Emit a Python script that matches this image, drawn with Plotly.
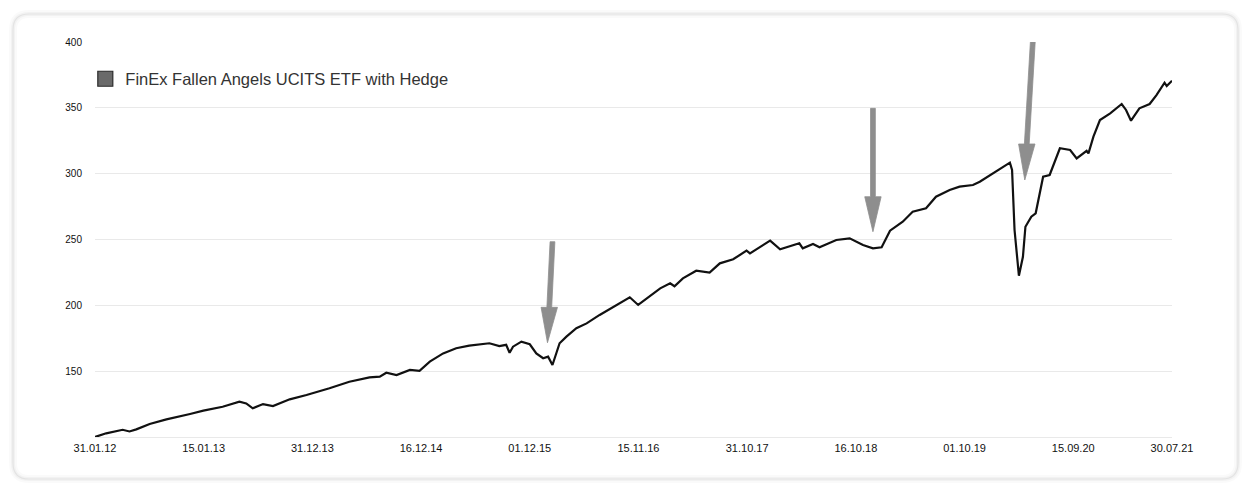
import plotly.graph_objects as go

# ---------------- data ----------------
series_name = "FinEx Fallen Angels UCITS ETF with Hedge"

dates = [
    "2012-01-31", "2012-03-07", "2012-04-29", "2012-05-21", "2012-06-12", "2012-07-25",
    "2012-09-17", "2012-11-10", "2012-12-02", "2013-01-14", "2013-03-17", "2013-05-10",
    "2013-06-01", "2013-06-22", "2013-07-25", "2013-08-26", "2013-10-19", "2013-12-12",
    "2014-01-25", "2014-02-24", "2014-04-29", "2014-07-03", "2014-08-05", "2014-08-26",
    "2014-09-28", "2014-11-10", "2014-12-11", "2015-01-13", "2015-02-25", "2015-04-08",
    "2015-05-20", "2015-07-24", "2015-08-25", "2015-09-16", "2015-09-27", "2015-10-08",
    "2015-11-04", "2015-12-01", "2015-12-22", "2016-01-13", "2016-01-29", "2016-02-12",
    "2016-03-06", "2016-03-28", "2016-04-29", "2016-06-01", "2016-07-13", "2016-08-25",
    "2016-10-18", "2016-11-14", "2016-12-11", "2017-01-24", "2017-02-25", "2017-03-11",
    "2017-04-07", "2017-05-20", "2017-07-02", "2017-08-04", "2017-09-16", "2017-10-29",
    "2017-11-09", "2017-12-11", "2018-01-13", "2018-02-14", "2018-04-17", "2018-04-28",
    "2018-05-31", "2018-06-21", "2018-08-14", "2018-09-26", "2018-11-08", "2018-12-10",
    "2019-01-07", "2019-02-03", "2019-03-16", "2019-04-17", "2019-05-30", "2019-07-01",
    "2019-08-14", "2019-09-15", "2019-10-28", "2019-11-19", "2020-01-01", "2020-02-24",
    "2020-03-02", "2020-03-10", "2020-03-24", "2020-04-06", "2020-04-14", "2020-05-03",
    "2020-05-17", "2020-05-30", "2020-06-10", "2020-07-01", "2020-08-03", "2020-09-05",
    "2020-09-26", "2020-10-28", "2020-11-03", "2020-11-19", "2020-12-10", "2021-01-12",
    "2021-02-18", "2021-03-04", "2021-03-20", "2021-04-16", "2021-05-19", "2021-06-10",
    "2021-07-06", "2021-07-13", "2021-07-30",
]

values = [
    100.0, 102.8, 105.5, 104.2, 105.8, 109.9,
    113.4, 116.7, 117.5, 120.0, 123.0, 126.8,
    125.5, 121.8, 125.0, 123.5, 128.6, 131.9,
    134.8, 137.0, 142.0, 145.3, 145.8, 148.8,
    147.0, 150.9, 150.3, 157.2, 163.5, 167.4,
    169.4, 171.2, 169.1, 170.0, 164.0, 168.6,
    172.4, 170.4, 163.5, 159.8, 161.0, 154.7,
    171.2, 176.2, 182.6, 186.3, 192.7, 198.5,
    206.1, 200.3, 205.3, 212.9, 216.7, 214.5,
    220.5, 226.3, 224.8, 231.9, 235.0, 241.5,
    239.5, 244.5, 249.1, 242.6, 247.1, 243.3,
    246.6, 244.1, 249.6, 250.9, 245.8, 243.3,
    244.1, 256.7, 263.5, 271.1, 273.7, 282.5,
    287.6, 290.1, 291.4, 293.9, 300.3, 308.4,
    302.8, 257.2, 222.5, 236.9, 259.7, 267.3,
    269.9, 285.1, 297.7, 299.0, 319.3, 318.0,
    311.6, 317.4, 315.4, 328.1, 340.7, 345.8,
    352.9, 348.4, 340.2, 349.6, 352.9, 359.7,
    369.1, 366.6, 370.6,
]

tick_dates = ["2012-01-31", "2013-01-15", "2013-12-31", "2014-12-16", "2015-12-01",
              "2016-11-15", "2017-10-31", "2018-10-16", "2019-10-01", "2020-09-15",
              "2021-07-30"]
tick_labels = ["31.01.12", "15.01.13", "31.12.13", "16.12.14", "01.12.15", "15.11.16",
               "31.10.17", "16.10.18", "01.10.19", "15.09.20", "30.07.21"]
y_ticks = [150, 200, 250, 300, 350, 400]

# arrow tips (date, value) pointing at the drawdowns
arrow_tip_dates = ["2016-01-27", "2018-12-10", "2020-04-12"]
arrow_tip_values = [171.6, 255.9, 295.2]

# ---------------- styling / geometry ----------------
FONT = "Liberation Sans, Arial, Helvetica, sans-serif"
W, H = 1244, 484
ML, MR, MT, MB = 95, 72, 42, 47
GRID = "#e9e9e9"
ARROW = "#8e8e8e"

# pixel geometry of each arrow relative to tip: (head_dx, head_dy, top_dx, top_dy)
arrow_geom = [(1.8, 35.4, 5.0, 101.0), (0.0, 35.0, 0.0, 123.4), (2.0, 36.0, 8.3, 143.3)]


def arrow_path(hdx, hdy, tdx, tdy, hw=8.2, sw=2.4):
    pts = [(0, 0), (hdx + hw, hdy), (hdx + sw, hdy), (tdx + sw, tdy),
           (tdx - sw, tdy), (hdx - sw, hdy), (hdx - hw, hdy)]
    return "M " + " L ".join(f"{x:.1f},{y:.1f}" for x, y in pts) + " Z"


fig = go.Figure()
fig.add_trace(go.Scatter(
    x=dates, y=values, mode="lines",
    line=dict(color="#111111", width=2.2),
    showlegend=False, hoverinfo="skip",
))
fig.add_trace(go.Scatter(
    x=[None], y=[None], mode="markers", name=series_name,
    marker=dict(symbol="square", size=15, color="#6a6a6a",
                line=dict(color="#2b2b2b", width=1.2)),
    showlegend=True, hoverinfo="skip",
))

shapes = []
pw, ph = W - ML - MR, H - MT - MB


def px2paper(xp, yp):
    return (xp - ML) / pw, (H - MB - yp) / ph


def card_path(x0p, y0p, x1p, y1p, r):
    x0, y1 = px2paper(x0p, y0p)
    x1, y0 = px2paper(x1p, y1p)
    rx, ry = r / pw, r / ph
    return (f"M {x0 + rx},{y1} L {x1 - rx},{y1} Q {x1},{y1} {x1},{y1 - ry} "
            f"L {x1},{y0 + ry} Q {x1},{y0} {x1 - rx},{y0} L {x0 + rx},{y0} "
            f"Q {x0},{y0} {x0},{y0 + ry} L {x0},{y1 - ry} Q {x0},{y1} {x0 + rx},{y1} Z")


for wdt, col in [(8, "rgba(0,0,0,0.018)"), (4, "rgba(0,0,0,0.03)"), (1.2, "rgba(0,0,0,0.06)")]:
    shapes.append(dict(type="path", xref="paper", yref="paper",
                       path=card_path(13, 14, 1238, 479, 16),
                       line=dict(color=col, width=wdt), fillcolor="rgba(0,0,0,0)",
                       layer="below"))

for d, v, g in zip(arrow_tip_dates, arrow_tip_values, arrow_geom):
    shapes.append(dict(type="path", xref="x", yref="y",
                       xsizemode="pixel", ysizemode="pixel",
                       xanchor=d, yanchor=v,
                       path=arrow_path(*g),
                       fillcolor=ARROW, line=dict(color=ARROW, width=0.8),
                       layer="above"))

fig.update_layout(
    width=W, height=H,
    margin=dict(l=ML, r=MR, t=MT, b=MB),
    paper_bgcolor="white", plot_bgcolor="rgba(0,0,0,0)",
    font=dict(family=FONT, size=11, color="#1a1a1a"),
    shapes=shapes,
    showlegend=True,
    legend=dict(x=-0.009, y=(H - MB - 79) / ph, xanchor="left", yanchor="middle",
                bgcolor="rgba(0,0,0,0)", borderwidth=0,
                font=dict(family=FONT, size=16.5, color="#333333")),
    hovermode=False,
)
fig.update_xaxes(
    type="date", range=["2012-01-31", "2021-07-30"],
    tickmode="array", tickvals=tick_dates, ticktext=tick_labels,
    showgrid=False, zeroline=False,
    showline=True, linecolor=GRID, linewidth=1,
    ticks="", ticklabelstandoff=1,
    tickfont=dict(family=FONT, size=11, color="#111111"),
)
fig.update_yaxes(
    range=[100, 400],
    tickmode="array", tickvals=y_ticks,
    showgrid=True, gridcolor=GRID, gridwidth=1,
    zeroline=False, showline=False, ticks="",
    ticklabelstandoff=12,
    tickfont=dict(family=FONT, size=10, color="#111111"),
)

fig.write_html("out.html")
